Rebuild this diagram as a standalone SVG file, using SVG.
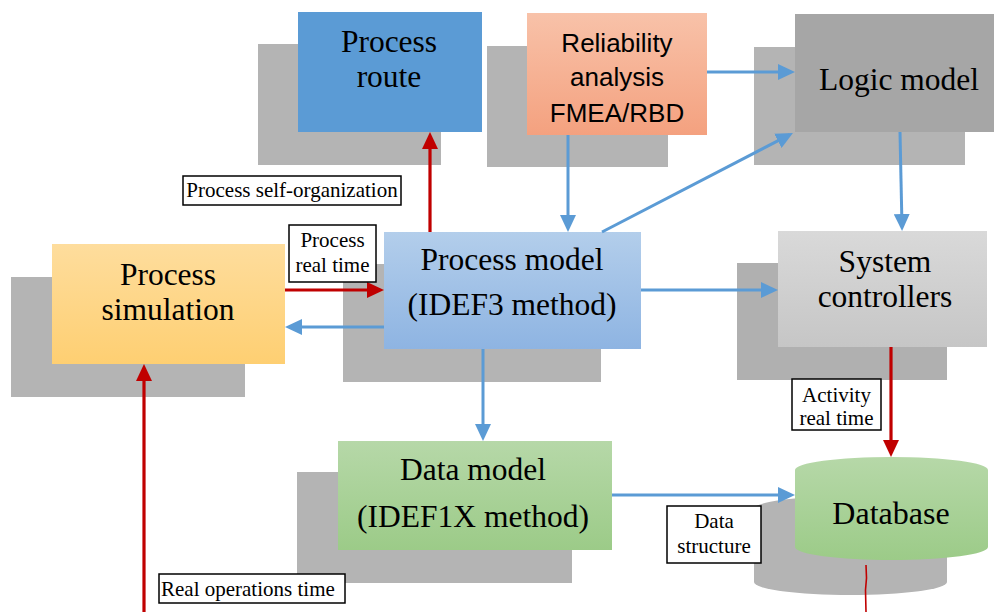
<svg xmlns="http://www.w3.org/2000/svg" width="994" height="612" viewBox="0 0 994 612">
  <defs>
    <linearGradient id="gOrange" x1="0" y1="0" x2="0" y2="1">
      <stop offset="0" stop-color="#f8c2a9"/>
      <stop offset="1" stop-color="#f4a17f"/>
    </linearGradient>
    <linearGradient id="gYellow" x1="0" y1="0" x2="0" y2="1">
      <stop offset="0" stop-color="#fedd9d"/>
      <stop offset="1" stop-color="#fecf72"/>
    </linearGradient>
    <linearGradient id="gBlue" x1="0" y1="0" x2="0" y2="1">
      <stop offset="0" stop-color="#b3ceeb"/>
      <stop offset="1" stop-color="#8eb4e2"/>
    </linearGradient>
    <linearGradient id="gLight" x1="0" y1="0" x2="0" y2="1">
      <stop offset="0" stop-color="#d9d9d9"/>
      <stop offset="1" stop-color="#c6c6c6"/>
    </linearGradient>
    <linearGradient id="gGreen" x1="0" y1="0" x2="0" y2="1">
      <stop offset="0" stop-color="#b6d8a8"/>
      <stop offset="1" stop-color="#9ccb88"/>
    </linearGradient>
    <marker id="arrBlue" markerUnits="userSpaceOnUse" markerWidth="18" markerHeight="16" refX="13" refY="8" orient="auto">
      <path d="M0,0 L17,8 L0,16 Z" fill="#5b9bd5"/>
    </marker>
    <marker id="arrRed" markerUnits="userSpaceOnUse" markerWidth="18" markerHeight="16" refX="13" refY="8" orient="auto">
      <path d="M0,0 L17,8 L0,16 Z" fill="#c00000"/>
    </marker>
  </defs>
  <style>
    .shadow { fill: #b4b4b4; }
    .serif { font-family: "Liberation Serif", "Times New Roman", serif; fill: #000; text-anchor: middle; }
    .sans { font-family: "Liberation Sans", Arial, sans-serif; fill: #000; text-anchor: middle; font-size: 26px; }
    .node { font-size: 31.5px; }
    .lbl rect { fill: #fff; stroke: #000; stroke-width: 1.5; }
    .lbl text { font-size: 21px; }
    .blue { stroke: #5b9bd5; stroke-width: 3; fill: none; marker-end: url(#arrBlue); }
    .red { stroke: #c00000; stroke-width: 3.2; fill: none; marker-end: url(#arrRed); }
  </style>

  <rect width="994" height="612" fill="#fff"/>

  <g id="process-route">
    <rect class="shadow" x="258" y="44" width="183" height="121"/>
    <rect x="298" y="12" width="184" height="120" fill="#5b9bd5"/>
    <text class="serif node" x="389" y="52">Process</text>
    <text class="serif node" x="389" y="87">route</text>
  </g>

  <g id="reliability-analysis">
    <rect class="shadow" x="487" y="46" width="181" height="121"/>
    <rect x="527" y="13" width="180" height="122" fill="url(#gOrange)"/>
    <text class="sans" x="617" y="52">Reliability</text>
    <text class="sans" x="617" y="86">analysis</text>
    <text class="sans" x="617" y="122">FMEA/RBD</text>
  </g>

  <g id="logic-model">
    <rect class="shadow" x="754" y="47" width="211" height="118"/>
    <rect x="795" y="14" width="199" height="118" fill="#a6a6a6"/>
    <text class="serif node" x="899" y="90">Logic model</text>
  </g>

  <g id="process-simulation">
    <rect class="shadow" x="11" y="277" width="234" height="120"/>
    <rect x="52" y="244" width="233" height="120" fill="url(#gYellow)"/>
    <text class="serif node" x="168" y="285">Process</text>
    <text class="serif node" x="168" y="320">simulation</text>
  </g>

  <g id="process-model">
    <rect class="shadow" x="343" y="264" width="258" height="118"/>
    <rect x="384" y="232" width="257" height="117" fill="url(#gBlue)"/>
    <text class="serif node" x="512" y="270">Process model</text>
    <text class="serif node" x="512" y="315">(IDEF3 method)</text>
  </g>

  <g id="system-controllers">
    <rect x="737" y="263" width="210" height="117" fill="#b0b0b0"/>
    <rect x="778" y="231" width="209" height="116" fill="url(#gLight)"/>
    <text class="serif node" x="885" y="272">System</text>
    <text class="serif node" x="885" y="307">controllers</text>
  </g>

  <g id="data-model">
    <rect class="shadow" x="297" y="472" width="275" height="111"/>
    <rect x="338" y="441" width="274" height="109" fill="url(#gGreen)"/>
    <text class="serif node" x="473" y="480">Data model</text>
    <text class="serif node" x="473" y="527">(IDEF1X method)</text>
  </g>

  <g id="database">
    <path class="shadow" d="M754,509 A96.5,13 0 0 1 947,509 L947,582 A96.5,13 0 0 1 754,582 Z"/>
    <path d="M795,470 A96.5,13 0 0 1 988,470 L988,547 A96.5,13 0 0 1 795,547 Z" fill="url(#gGreen)"/>
    <text class="serif" font-size="32" x="891" y="524">Database</text>
  </g>

  <g id="connectors">
    <line class="red" x1="430" y1="232" x2="430" y2="136"/>
    <line class="blue" x1="568" y1="135" x2="568" y2="228"/>
    <line class="blue" x1="707" y1="72" x2="791" y2="72"/>
    <line class="blue" x1="602" y1="232" x2="789.4" y2="134.8"/>
    <line class="blue" x1="900" y1="132" x2="902" y2="227"/>
    <line class="red" x1="285" y1="290" x2="380" y2="290"/>
    <line class="blue" x1="384" y1="327" x2="289" y2="327"/>
    <line class="blue" x1="641" y1="290" x2="774" y2="290"/>
    <line class="blue" x1="483" y1="349" x2="483" y2="437"/>
    <line class="blue" x1="612" y1="495" x2="791" y2="495"/>
    <line class="red" x1="891" y1="347" x2="891" y2="453"/>
    <polyline points="866,565 866.5,578 865.5,590 866,612" stroke="#c00000" stroke-width="1.6" fill="none"/>
    <line class="red" x1="144" y1="612" x2="144" y2="368"/>
  </g>

  <g id="labels">
    <g class="lbl" id="lbl-self-organization">
      <rect x="183" y="176" width="218" height="29"/>
      <text class="serif" x="292" y="197">Process self-organization</text>
    </g>
    <g class="lbl" id="lbl-process-real-time">
      <rect x="289" y="225" width="87" height="57"/>
      <text class="serif" x="332.5" y="247">Process</text>
      <text class="serif" x="332.5" y="272">real time</text>
    </g>
    <g class="lbl" id="lbl-activity-real-time">
      <rect x="792" y="379" width="89" height="51"/>
      <text class="serif" x="836.5" y="402">Activity</text>
      <text class="serif" x="836.5" y="425">real time</text>
    </g>
    <g class="lbl" id="lbl-data-structure">
      <rect x="667" y="506" width="94" height="57"/>
      <text class="serif" x="714" y="528">Data</text>
      <text class="serif" x="714" y="553">structure</text>
    </g>
    <g class="lbl" id="lbl-real-operations-time">
      <rect x="159" y="574" width="186" height="29"/>
      <text class="serif" x="161" y="596" style="text-anchor:start">Real operations time</text>
    </g>
  </g>
</svg>
